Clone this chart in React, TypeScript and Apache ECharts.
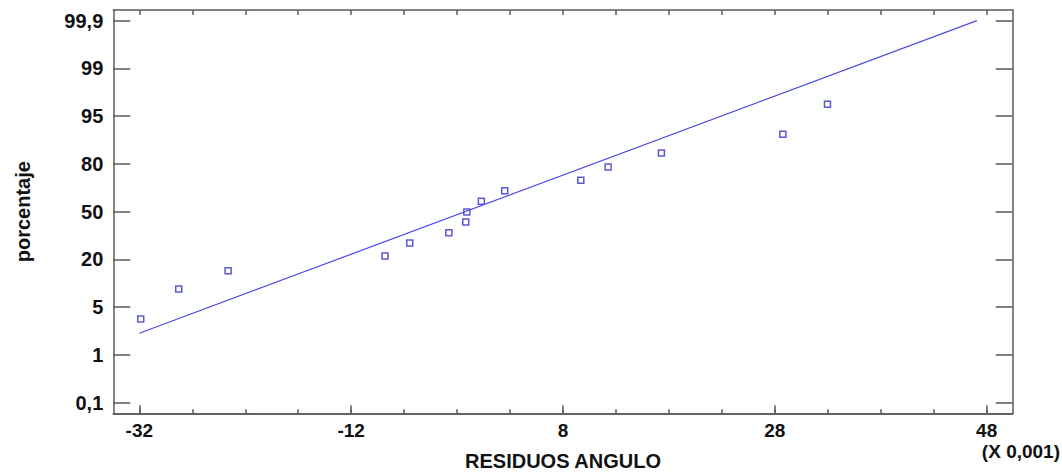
import React, { useEffect, useRef } from "react";
import * as echarts from "echarts";

// Residuals (x, in units of 0.001) and their position on the probability axis (tick index units)
const residuals = [-31.87, -28.28, -23.62, -8.8, -6.47, -2.78, -1.18, -1.08, 0.29, 2.5, 9.68, 12.26, 17.29, 28.76, 32.97];
const probPositions = [1.753, 2.381, 2.764, 3.072, 3.345, 3.56, 3.784, 3.994, 4.218, 4.44, 4.658, 4.936, 5.229, 5.621, 6.249];

// Reference line end points
const lineX = [-32, 47.08];
const lineY = [1.453, 8.0];

// Tick labels
const yTickLabels = ["0,1", "1", "5", "20", "50", "80", "95", "99", "99,9"];
const yTickPositions = [0, 1, 2, 3, 4, 5, 6, 7, 8];
const xMajorTicks = [-32, -12, 8, 28, 48];
const xMinorTicks = [-32, -27, -22, -17, -12, -7, -2, 3, 8, 13, 18, 23, 28, 33, 38, 43, 48];

const FONT = "'Liberation Sans', Arial, sans-serif";
const AXIS_COLOR = "#5a5a5a";

export default function App() {
  const ref = useRef<HTMLDivElement>(null);

  useEffect(() => {
    if (!ref.current) return;
    const chart = echarts.init(ref.current, undefined, { renderer: "svg" });

    const xMin = -34.46;
    const xMax = 50.46;
    const yMin = -0.223;
    const yMax = 8.223;

    const baseX = (extra: any) => ({
      type: "value",
      min: xMin,
      max: xMax,
      splitLine: { show: false },
      axisLine: { show: true, onZero: false, lineStyle: { color: AXIS_COLOR, width: 1.5 } },
      ...extra,
    });

    const option: any = {
      animation: false,
      grid: {
        left: 113.3,
        right: 49.3,
        top: 10,
        bottom: 60.7,
        containLabel: false,
        outerBoundsMode: "none",
      },
      xAxis: [
        baseX({
          position: "bottom",
          name: "RESIDUOS ANGULO",
          nameLocation: "middle",
          nameGap: 38,
          nameTextStyle: { fontFamily: FONT, fontWeight: "bold", fontSize: 20, color: "#111" },
          axisTick: { show: true, inside: true, length: 8, customValues: xMajorTicks, lineStyle: { color: AXIS_COLOR, width: 1.5 } },
          axisLabel: {
            show: true,
            customValues: xMajorTicks,
            margin: 8,
            fontFamily: FONT,
            fontWeight: "bold",
            fontSize: 19,
            color: "#111",
            formatter: (v: number) => String(Math.round(v)),
          },
        }),
        baseX({
          position: "bottom",
          axisTick: { show: true, inside: true, length: 4, customValues: xMinorTicks, lineStyle: { color: AXIS_COLOR, width: 1.5 } },
          axisLabel: { show: false },
        }),
        baseX({
          position: "top",
          axisTick: { show: true, inside: true, length: 5, customValues: xMinorTicks, lineStyle: { color: AXIS_COLOR, width: 1.5 } },
          axisLabel: { show: false },
        }),
      ],
      yAxis: [
        {
          type: "value",
          position: "left",
          min: yMin,
          max: yMax,
          name: "porcentaje",
          nameLocation: "middle",
          nameGap: 80,
          nameRotate: 90,
          nameTextStyle: { fontFamily: FONT, fontWeight: "bold", fontSize: 20, color: "#111" },
          splitLine: { show: false },
          axisLine: { show: true, onZero: false, lineStyle: { color: AXIS_COLOR, width: 1.5 } },
          axisTick: { show: true, inside: true, length: 17, customValues: yTickPositions, lineStyle: { color: AXIS_COLOR, width: 1.5 } },
          axisLabel: {
            show: true,
            customValues: yTickPositions,
            margin: 10,
            fontFamily: FONT,
            fontWeight: "bold",
            fontSize: 20,
            color: "#111",
            formatter: (v: number) => yTickLabels[Math.round(v)] ?? "",
          },
        },
        {
          type: "value",
          position: "right",
          min: yMin,
          max: yMax,
          splitLine: { show: false },
          axisLine: { show: true, onZero: false, lineStyle: { color: AXIS_COLOR, width: 1.5 } },
          axisTick: { show: true, inside: true, length: 17, customValues: yTickPositions, lineStyle: { color: AXIS_COLOR, width: 1.5 } },
          axisLabel: { show: false },
        },
      ],
      graphic: [
        {
          type: "text",
          right: 2,
          top: 442,
          style: {
            text: "(X 0,001)",
            fontFamily: FONT,
            fontWeight: "bold",
            fontSize: 19,
            fill: "#111",
          },
        },
      ],
      series: [
        {
          type: "line",
          xAxisIndex: 0,
          yAxisIndex: 0,
          data: lineX.map((x, i) => [x, lineY[i]]),
          showSymbol: false,
          symbol: "none",
          lineStyle: { color: "#4a4ae6", width: 1.2 },
          silent: true,
        },
        {
          type: "scatter",
          xAxisIndex: 0,
          yAxisIndex: 0,
          data: residuals.map((x, i) => [x, probPositions[i]]),
          symbol: "rect",
          symbolSize: 6,
          itemStyle: { color: "#ffffff", borderColor: "#2f2fcc", borderWidth: 1.5 },
        },
      ],
    };

    chart.setOption(option);
    return () => chart.dispose();
  }, []);

  return (
    <div
      ref={ref}
      style={{ position: "fixed", left: 0, top: 0, width: 1062, height: 474, background: "#fff" }}
    />
  );
}
